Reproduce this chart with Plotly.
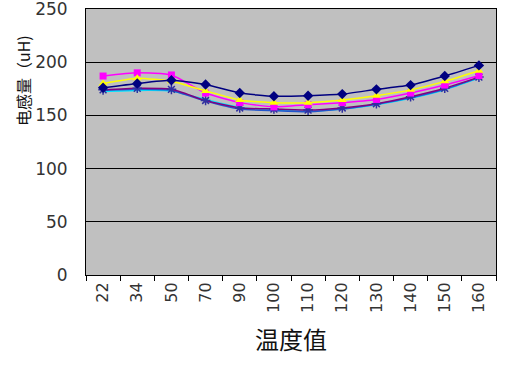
import plotly.graph_objects as go

categories = ["22", "34", "50", "70", "90", "100", "110", "120", "130", "140", "150", "160"]

s_navy = [176, 180, 183, 179, 171, 168, 168.5, 170, 174.5, 178.5, 187, 197]
s_magenta = [187, 190, 188, 171, 162, 158, 160, 162, 165, 171, 178.5, 187.5]
s_yellow = [180, 185, 182, 173, 164.5, 162, 162, 164.5, 168.5, 174, 182, 192]
s_purple = [174, 175.5, 174.5, 164, 157, 156, 155, 157, 161, 167.5, 175.5, 186]
s_cyan = [172.5, 173.5, 173, 165, 157.5, 155, 154, 156, 160, 166, 174, 185]
s_blue = [173.5, 174.5, 173.5, 163.5, 156, 154.5, 153.5, 156, 160.5, 166.5, 174.5, 185.5]

y_ticks = [0, 50, 100, 150, 200, 250]

fig = go.Figure()

def add(vals, line_color, symbol, marker_color, size=7, mline=0):
    fig.add_trace(go.Scatter(
        x=categories, y=vals, mode="lines+markers" if symbol else "lines",
        line=dict(color=line_color, width=1.5, shape="spline", smoothing=0.5),
        marker=dict(symbol=symbol or "circle", size=size, color=marker_color,
                    line=dict(color=marker_color, width=mline)),
        showlegend=False))

add(s_cyan, "#00E5FF", None, "#00E5FF")
add(s_blue, "#2255CC", None, "#2255CC")
add(s_purple, "#800080", "asterisk-open", "#3030A0", size=8, mline=1.5)
add(s_magenta, "#FF00FF", "square", "#FF00FF", size=7)
add(s_yellow, "#FFFF00", "triangle-up", "#FFFF00", size=8)
add(s_navy, "#000080", "diamond", "#000080", size=8)

pw, ph = 525 - 86 - 29, 384 - 9 - 109

fig.update_layout(
    width=525, height=384,
    margin=dict(l=86, r=29, t=9, b=109),
    paper_bgcolor="white", plot_bgcolor="#C0C0C0",
    font=dict(family="DejaVu Sans, Noto Sans CJK SC", color="#222222"),
    xaxis=dict(
        type="category", range=[-0.5, len(categories) - 0.5],
        tickangle=-90, tickson="boundaries", automargin=False,
        ticks="outside", ticklen=5, tickcolor="black",
        showgrid=False, showline=True, linecolor="black", linewidth=1, mirror=True,
        tickfont=dict(size=16, family="DejaVu Sans", color="#333333"),
        title=dict(text="温度值", font=dict(size=24, family="Noto Sans CJK SC", color="#111111"), standoff=20),
    ),
    yaxis=dict(
        range=[0, 250], tickvals=y_ticks, ticks="", ticklabelstandoff=14,
        ticklabeloverflow="allow", automargin=False,
        showgrid=True, gridcolor="black", gridwidth=1, zeroline=False,
        showline=True, linecolor="black", linewidth=1, mirror=True,
        tickfont=dict(size=17, family="DejaVu Sans", color="#333333"),
    ),
    annotations=[dict(
        text="电感量（uH)", textangle=-90,
        x=(23 - 86) / pw, y=(275 - 81) / ph, xref="paper", yref="paper",
        xanchor="center", yanchor="middle",
        showarrow=False, font=dict(size=16, family="Noto Sans CJK SC", color="#111111"))],
)

fig.write_html("out.html")
